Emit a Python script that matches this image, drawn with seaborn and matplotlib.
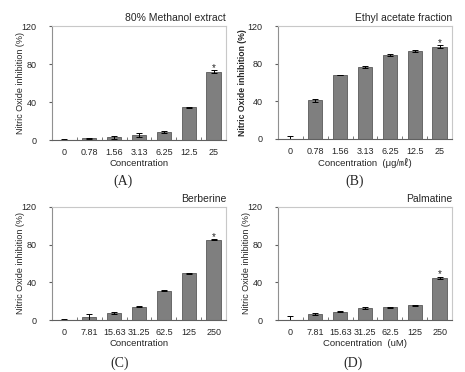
import matplotlib
matplotlib.use("Agg")
import matplotlib.pyplot as plt
import seaborn as sns
import pandas as pd

sns.set_style("white")
plt.rcParams['font.family'] = ['Liberation Sans', 'Noto Sans CJK KR', 'DejaVu Sans']

# datos de cada panel
conc_a = ['0', '0.78', '1.56', '3.13', '6.25', '12.5', '25']
vals_a = [0.5, 2, 3, 5.5, 8.5, 34.5, 72]
err_a = [0.5, 0.5, 1.5, 2, 1, 0.5, 1.5]

conc_b = ['0', '0.78', '1.56', '3.13', '6.25', '12.5', '25']
vals_b = [0, 41, 68, 76, 89, 93.5, 98]
err_b = [3.5, 2, 0.3, 1, 1, 0.6, 1.5]

conc_c = ['0', '7.81', '15.63', '31.25', '62.5', '125', '250']
vals_c = [0.5, 3.5, 7.5, 14, 31, 49.5, 85]
err_c = [0.5, 3, 1, 0.5, 0.5, 0.5, 0.5]

conc_d = ['0', '7.81', '15.63', '31.25', '62.5', '125', '250']
vals_d = [0, 6, 9, 13, 13.5, 15.5, 45]
err_d = [4, 1, 1, 1, 0.6, 0.6, 1]

paneles = [
    (conc_a, vals_a, err_a, '80% Methanol extract', 'Concentration', False, '(A)'),
    (conc_b, vals_b, err_b, 'Ethyl acetate fraction', 'Concentration  (\u03bcg/\u3396)', True, '(B)'),
    (conc_c, vals_c, err_c, 'Berberine', 'Concentration', False, '(C)'),
    (conc_d, vals_d, err_d, 'Palmatine', 'Concentration  (uM)', False, '(D)'),
]

# posiciones en pixeles: (izq, arriba, abajo) y etiqueta (x, y)
cajas = [(52, 26, 140), (278, 26, 139), (52, 207, 320), (278, 207, 320)]
etiquetas = [(123, 181), (355, 181), (120, 363), (353, 363)]

W, H = 465, 372
fig = plt.figure(figsize=(W / 100, H / 100), dpi=100)

for (conc, vals, err, titulo, xlab, negrita, letra), (x0, top, bot), (lx, ly) in zip(paneles, cajas, etiquetas):
    ax = fig.add_axes([x0 / W, 1 - bot / H, 174 / W, (bot - top) / H])
    df = pd.DataFrame({'c': conc, 'v': vals})
    sns.barplot(data=df, x='c', y='v', color='#7f7f7f', width=0.57,
                edgecolor='#5a5a5a', linewidth=0.6, saturation=1, ax=ax)
    ax.errorbar(range(len(conc)), vals, yerr=err, fmt='none', ecolor='black',
                elinewidth=0.7, capsize=2, capthick=0.7)
    ax.text(len(conc) - 1, vals[-1] + err[-1] + 2.5, '*', ha='center', va='center', fontsize=7)
    ax.set_ylim(0, 120)
    ax.set_yticks([0, 40, 80, 120])
    ax.set_xlim(-0.5, len(conc) - 0.5)
    ax.set_xticks([i + 0.5 for i in range(len(conc) - 1)], minor=True)
    ax.tick_params(axis='x', which='major', length=0, labelsize=6.5, pad=6)
    ax.tick_params(axis='x', which='minor', direction='in', length=2, color='#606060', bottom=True)
    ax.tick_params(axis='y', length=2, labelsize=6.5, left=True, pad=9, color='#606060')
    ax.set_xlabel(xlab, fontsize=6.8, labelpad=1)
    if negrita:
        ax.set_ylabel('Nitric Oxide inhibition (%)', fontsize=6.2, fontweight='bold')
        ax.yaxis.set_label_coords(-0.18, 0.5)
    else:
        ax.set_ylabel('Nitric Oxide inhibition (%)', fontsize=6.5)
        ax.yaxis.set_label_coords(-0.155, 0.5)
    for lado in ['top', 'right']:
        ax.spines[lado].set_color('#c8c8c8')
        ax.spines[lado].set_linewidth(0.8)
    ax.spines['left'].set_color('#909090')
    ax.spines['bottom'].set_color('#606060')
    ax.spines['left'].set_linewidth(0.8)
    ax.spines['bottom'].set_linewidth(0.8)
    ax.text(1.0, 1.03, titulo, transform=ax.transAxes, ha='right', va='bottom', fontsize=7.5)
    fig.text(lx / W, 1 - ly / H, letra, ha='center', va='center', fontsize=10,
             family=['Liberation Serif', 'DejaVu Serif'])

plt.savefig('out.png', dpi=100)
